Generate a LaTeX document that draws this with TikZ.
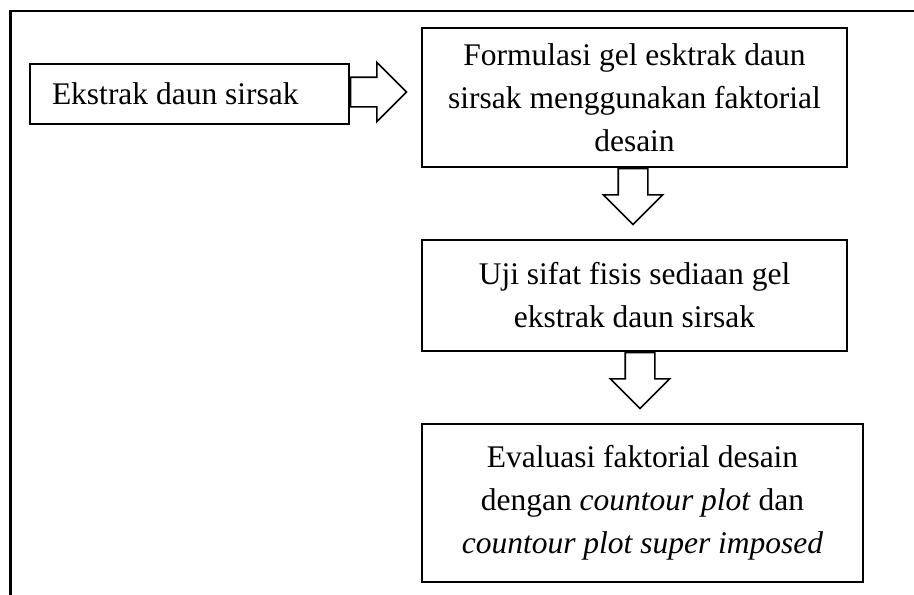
\documentclass[tikz,border=0pt]{standalone}
\usepackage{fontspec}
\setmainfont{Liberation Serif}
\usetikzlibrary{shapes.arrows}

\tikzset{
  kotak/.style={draw, line width=1.6pt, align=center, inner sep=0pt,
    font=\fontsize{31.5}{43}\selectfont},
  panah/.style={single arrow, draw, line width=1.6pt, inner xsep=0pt, inner ysep=14pt,
    minimum height=56pt, single arrow head extend=15pt, single arrow tip angle=90}
}

\begin{document}
\begin{tikzpicture}[x=1pt,y=1pt]
\useasboundingbox (0,0) rectangle (914,-595);
% bingkai luar
\draw[line width=2.6pt] (10.5,-595) -- (10.5,-11) -- (914,-11);
% kotak-kotak
\node[kotak, minimum width=319pt, minimum height=60pt, text width=275pt, align=flush left] (ekstrak) at (189.5,-94) {Ekstrak daun sirsak};
\node[kotak, minimum width=425pt, minimum height=139pt] (formulasi) at (634.5,-97.5) {Formulasi gel esktrak daun\\ sirsak menggunakan faktorial\\ desain};
\node[kotak, minimum width=425pt, minimum height=111pt] (uji) at (634.5,-295.5) {Uji sifat fisis sediaan gel\\ ekstrak daun sirsak};
\node[kotak, minimum width=441pt, minimum height=158pt] (evaluasi) at (642.5,-503) {Evaluasi faktorial desain\\ dengan \textit{countour plot} dan\\ \textit{countour plot super imposed}};
% panah blok
\node[panah, anchor=tail] (panah1) at ([yshift=2pt]ekstrak.east) {};
\node[panah, rotate=-90, anchor=tail] (panah2) at ([xshift=-1.5pt]formulasi.south) {};
\node[panah, rotate=-90, anchor=tail] (panah3) at ([xshift=5.5pt]uji.south) {};
\end{tikzpicture}
\end{document}
